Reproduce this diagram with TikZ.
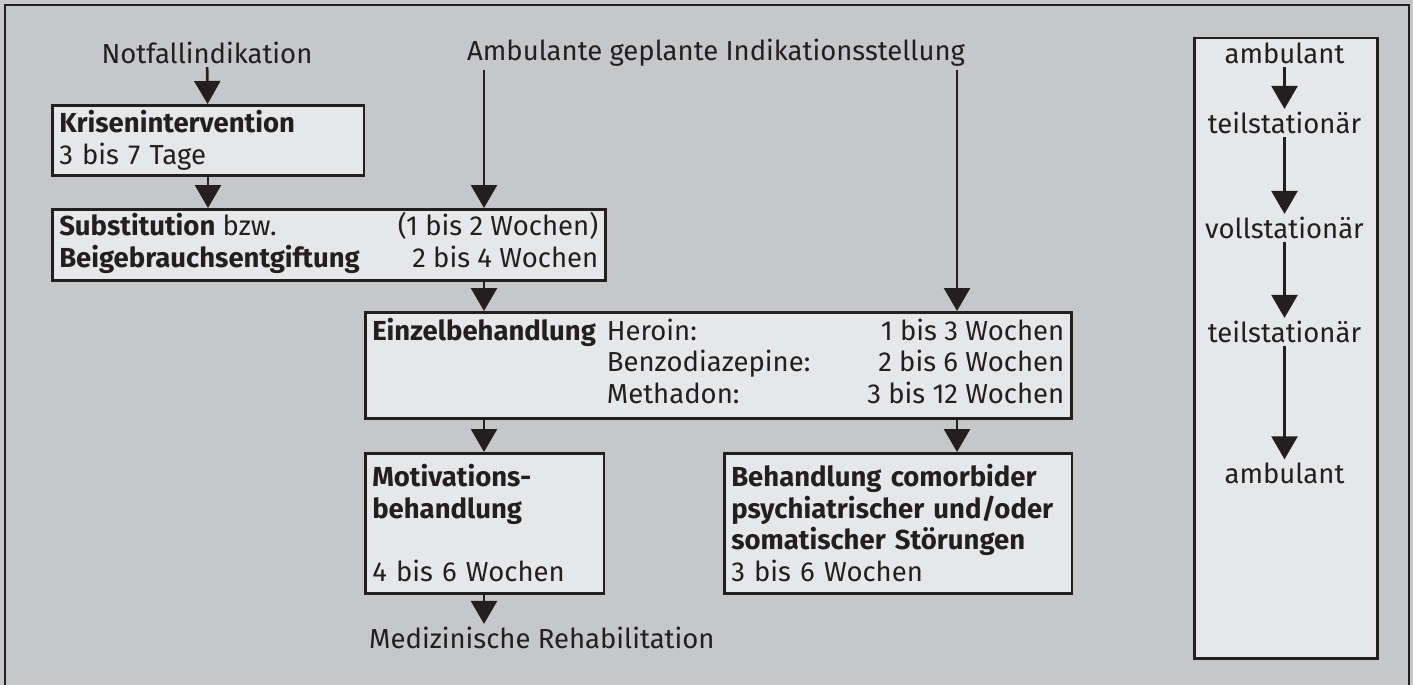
\documentclass[tikz,border=0pt]{standalone}
\usepackage{fontspec}
\setmainfont{Fira Sans}
\usetikzlibrary{arrows.meta,positioning}
\definecolor{panelgray}{RGB}{198,199,201}
\definecolor{boxgray}{RGB}{230,231,232}
\definecolor{inkblack}{RGB}{35,31,32}

\begin{document}
\begin{tikzpicture}[x=1pt,y=-1pt,
  font=\fontsize{27.5}{31.5}\selectfont,
  box/.style={draw=inkblack,line width=2.5pt,fill=boxgray,text=inkblack,
    anchor=north west,align=left,inner xsep=7pt,inner ysep=0pt},
  lbl/.style={text=inkblack,inner sep=3pt},
  flow/.style={draw=inkblack,line width=2.6pt,-{Triangle[width=26pt,length=23pt]}}]

\useasboundingbox (0,0) rectangle (1413,685);
\fill[panelgray] (0,0) rectangle (1413,685);
\draw[inkblack,line width=2.5pt] (5,5) rectangle (1409,705);

% Einstiege
\node[lbl] (notfall) at (207,53) {Notfallindikation};
\node[lbl] (ambul) at (716,53) {Ambulante geplante Indikationsstellung};
\coordinate (colA) at (484,0);
\coordinate (colB) at (957,0);

% Behandlungsschritte
\node[box,text width=297.5pt,minimum height=70pt] (kris) at (51,104)
  {\textbf{Krisenintervention}\\3 bis 7 Tage};
\node[box,minimum height=71pt] (subst) at (51,208)
  {\begin{tabular*}{539pt}{@{}l@{\extracolsep{\fill}}r@{}}
   \textbf{Substitution} bzw. & (1 bis 2 Wochen)\\
   \textbf{Beigebrauchsentgiftung} & 2 bis 4 Wochen
   \end{tabular*}};
\node[box,minimum height=106pt] (einzel) at (364,311)
  {\begin{tabular*}{692pt}{@{}l@{\hspace{11pt}}l@{\extracolsep{\fill}}r@{}}
   \textbf{Einzelbehandlung} & Heroin: & 1 bis 3 Wochen\\
   & Benzodiazepine: & 2 bis 6 Wochen\\
   & Methadon: & 3 bis 12 Wochen
   \end{tabular*}};
\node[box,text width=224.5pt,minimum height=140pt] (motiv) at (364,452)
  {\textbf{Motivations-}\\\textbf{behandlung}\\[31.5pt]4 bis 6 Wochen};
\node[box,text width=333.5pt,minimum height=140pt] (komorb) at (723,452)
  {\textbf{Behandlung comorbider}\\\textbf{psychiatrischer und/oder}\\
   \textbf{somatischer Störungen}\\3 bis 6 Wochen};
\node[lbl,anchor=west] (reha) at (366,638) {Medizinische Rehabilitation};

\draw[flow] (notfall) -- (kris);
\draw[flow] (kris) -- (subst.north -| kris.south);
\draw[flow] (ambul.south -| colA) -- (subst.north -| colA);
\draw[flow] (ambul.south -| colB) -- (einzel.north -| colB);
\draw[flow] (subst.south -| colA) -- (einzel.north -| colA);
\draw[flow] (einzel.south -| colA) -- (motiv.north -| colA);
\draw[flow] (einzel.south -| colB) -- (komorb.north -| colB);
\draw[flow] (motiv.south -| colA) -- (reha.north -| colA);

% Settings
\node[box,minimum width=183pt,minimum height=620pt] (setting) at (1193,37) {};
\node[lbl] (amb1) at (1284.5,53) {ambulant};
\node[lbl] (teil1) at (1284.5,123) {teilstationär};
\node[lbl] (voll) at (1284.5,228) {vollstationär};
\node[lbl] (teil2) at (1284.5,332) {teilstationär};
\node[lbl] (amb2) at (1284.5,473) {ambulant};
\draw[flow] (amb1) -- (teil1);
\draw[flow] (teil1) -- (voll);
\draw[flow] (voll) -- (teil2);
\draw[flow] (teil2) -- (amb2);
\end{tikzpicture}
\end{document}
